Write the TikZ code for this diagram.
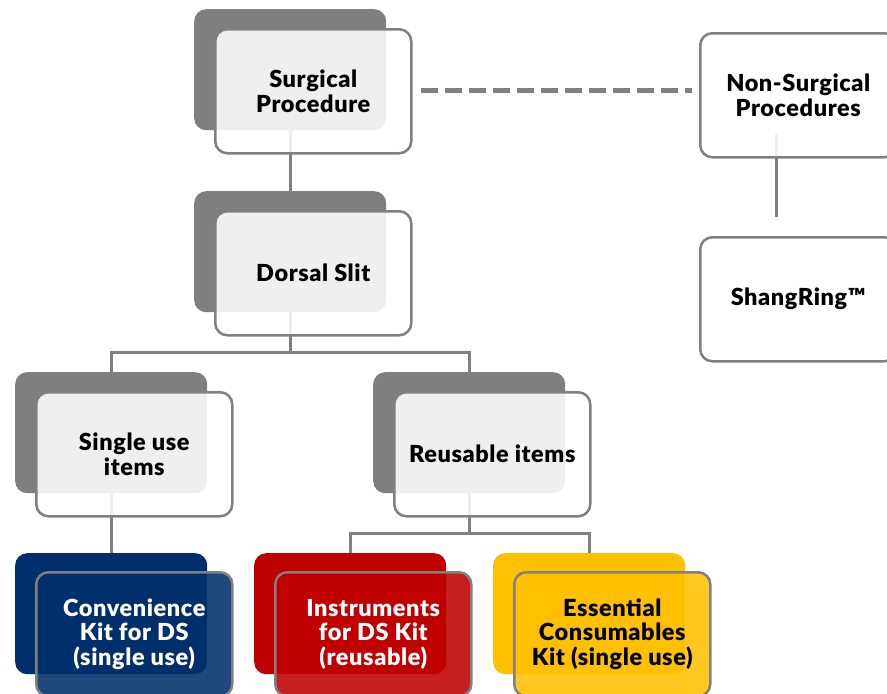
\documentclass[tikz,border=0pt]{standalone}
\usepackage{fontspec}
\setmainfont{Lato}[BoldFont={Lato Black},BoldFeatures={LetterSpace=2.5}]
\definecolor{gback}{HTML}{7F7F7F}
\definecolor{gline}{HTML}{808080}
\definecolor{navy}{HTML}{002F6C}
\definecolor{dred}{HTML}{C00000}
\definecolor{gold}{HTML}{FFC000}
\begin{document}
\begin{tikzpicture}[x=1pt,y=-1pt,
  backbox/.style={fill=#1, draw=none, rounded corners=12pt, minimum width=192pt, minimum height=121pt, inner sep=0pt, anchor=north west},
  ghostbox/.style={draw=none, fill=none, minimum width=192pt, minimum height=121pt, inner sep=0pt, anchor=north west},
  frontbox/.style={fill=#1, fill opacity=0.88, text opacity=1, draw=gline, line width=2.5pt, rounded corners=12pt, minimum width=196pt, minimum height=124pt, inner sep=0pt, anchor=north west, align=center, font=\fontsize{23.5}{24.5}\selectfont\bfseries},
  conn/.style={draw=gline, line width=2.6pt},
  dashline/.style={draw=gline, line width=5pt, dash pattern=on 17pt off 7pt}
]
\clip (0,0) rectangle (887,694);
\fill[white] (0,0) rectangle (887,694);
% back boxes
\node[backbox=gback] (spB) at (194,9) {};
\node[backbox=gback] (dsB) at (194,191) {};
\node[backbox=gback] (suB) at (15,372) {};
\node[backbox=gback] (ruB) at (373,372) {};
\node[backbox=navy] (ckB) at (15,553) {};
\node[backbox=dred] (inB) at (254,553) {};
\node[backbox=gold] (ecB) at (493,553) {};
\node[ghostbox] (nsB) at (680,13) {};
\node[ghostbox] (shB) at (680,217) {};
% connectors
\draw[conn] (spB.south) -- (dsB.north);
\draw[conn] (dsB.south) -- ++(0,40) -| (suB.north);
\draw[conn] (dsB.south) -- ++(0,40) -| (ruB.north);
\draw[conn] (suB.south) -- (ckB.north);
\draw[conn] (ruB.south) -- ++(0,40) -| (inB.north);
\draw[conn] (ruB.south) -- ++(0,40) -| (ecB.north);
\draw[conn] (nsB.south) -- (shB.north);
% front boxes
\node[frontbox=white] (spF) at (214,28) {Surgical\\Procedure};
\node[frontbox=white] (dsF) at (214,210) {Dorsal Slit};
\node[frontbox=white] (suF) at (35,391) {Single use\\items};
\node[frontbox=white] (ruF) at (393,391) {Reusable items};
\node[frontbox=navy, text=white] (ckF) at (35,571) {Convenience\\Kit for DS\\(single use)};
\node[frontbox=dred, text=white] (inF) at (274,571) {Instruments\\for DS Kit\\(reusable)};
\node[frontbox=gold] (ecF) at (513,571) {Essential\\Consumables\\Kit (single use)};
\node[frontbox=white] (nsF) at (699,32) {Non-Surgical\\Procedures};
\node[frontbox=white] (shF) at (699,236) {ShangRing™};
% dashed link
\draw[dashline] ([xshift=8pt,yshift=1pt]spF.east) -- ([xshift=-7pt,yshift=1pt]spF.east -| nsF.west);
\end{tikzpicture}
\end{document}
